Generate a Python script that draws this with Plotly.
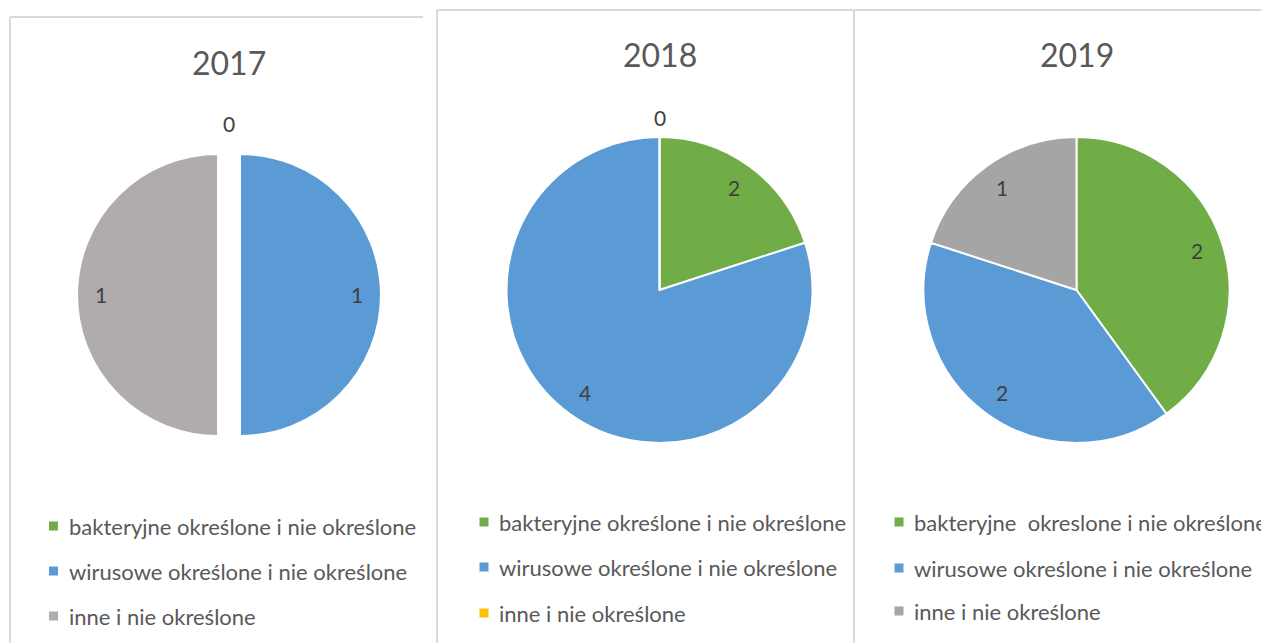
import math
import plotly.graph_objects as go

# page offset (browser body margin) compensation
OFF = 8
W, H = 1269 - OFF, 643 - OFF

# ---------------- data ----------------
titles = ["2017", "2018", "2019"]

categories_2017 = ["bakteryjne określone i nie określone",
                   "wirusowe określone i nie określone",
                   "inne i nie określone"]
categories_2018 = ["bakteryjne określone i nie określone",
                   "wirusowe określone i nie określone",
                   "inne i nie określone"]
categories_2019 = ["bakteryjne\u00a0 okreslone i nie określone",
                   "wirusowe określone i nie określone",
                   "inne i nie określone"]

values_2017 = [0, 1, 1]
values_2018 = [1, 4, 0]          # slice shares as drawn
values_2019 = [2, 2, 1]

data_labels_2017 = ["0", "1", "1"]
data_labels_2018 = ["2", "4", "0"]  # labels as printed on the chart
data_labels_2019 = ["2", "2", "1"]

colors_2017 = ["#70AD47", "#5B9BD5", "#AFACAB"]
colors_2018 = ["#70AD47", "#5B9BD5", "#FFC000"]
colors_2019 = ["#70AD47", "#5B9BD5", "#A5A5A5"]

# ---------------- layout params (pixels in the page) ----------------
FONT = "Lato"
panels = [
    dict(title=titles[0], cats=categories_2017, vals=values_2017, labs=data_labels_2017,
         cols=colors_2017, cx=229, cy=295, half=152, pull=0.078, title_y=62,
         leg_sq_x=53.5, leg_tx=67, leg_y=[526, 571, 616]),
    dict(title=titles[1], cats=categories_2018, vals=values_2018, labs=data_labels_2018,
         cols=colors_2018, cx=659.5, cy=290, half=153, pull=0.0, title_y=55,
         leg_sq_x=484, leg_tx=497, leg_y=[522, 567, 613]),
    dict(title=titles[2], cats=categories_2019, vals=values_2019, labs=data_labels_2019,
         cols=colors_2019, cx=1076.5, cy=290, half=153, pull=0.0, title_y=55,
         leg_sq_x=899, leg_tx=912, leg_y=[522, 568, 611]),
]


def px2x(px):
    return (px - OFF) / W


def px2y(py):
    return 1 - (py - OFF) / H


fig = go.Figure()
annotations = []
shapes = []

# panel borders
BORDER = "#D9D9D9"
for (x0, y0, x1, y1) in [
    (10, 17, 423, 17), (10, 17, 10, 643),
    (437, 10, 853, 10), (437, 10, 437, 643), (854, 10, 854, 643),
    (854, 10, 1269, 10),
]:
    shapes.append(dict(type="line", xref="paper", yref="paper",
                       x0=px2x(x0), y0=px2y(y0), x1=px2x(x1), y1=px2y(y1),
                       line=dict(color=BORDER, width=2), layer="below"))

for p in panels:
    cx, cy, half = p["cx"], p["cy"], p["half"]
    fig.add_trace(go.Pie(
        labels=p["cats"], values=p["vals"],
        marker=dict(colors=p["cols"], line=dict(color="white", width=2)),
        sort=False, direction="clockwise", rotation=0,
        textinfo="none", showlegend=False,
        pull=[p["pull"]] * len(p["vals"]),
        domain=dict(x=[px2x(cx - half), px2x(cx + half)],
                    y=[px2y(cy + half), px2y(cy - half)]),
    ))

    # data labels, placed along slice mid-angles
    r = half / (1 + p["pull"])
    pull_px = p["pull"] * r
    total = sum(p["vals"])
    cum = 0
    for v, t in zip(p["vals"], p["labs"]):
        a0 = cum / total * 2 * math.pi
        a1 = (cum + v) / total * 2 * math.pi
        cum += v
        mid = (a0 + a1) / 2
        d = 1.13 * half if v == 0 else 0.83 * r + pull_px
        lx = cx + d * math.sin(mid)
        ly = cy - d * math.cos(mid)
        annotations.append(dict(x=px2x(lx), y=px2y(ly), xref="paper", yref="paper",
                                text=t, showarrow=False, xanchor="center", yanchor="middle",
                                font=dict(family=FONT, size=21, color="#404040")))

    # title
    annotations.append(dict(x=px2x(cx), y=px2y(p["title_y"]), xref="paper", yref="paper",
                            text=p["title"], showarrow=False, xanchor="center", yanchor="middle",
                            font=dict(family=FONT, size=32, color="#595959")))

    # legend
    for cat, col, yy in zip(p["cats"], p["cols"], p["leg_y"]):
        shapes.append(dict(type="rect", xref="paper", yref="paper",
                           x0=px2x(p["leg_sq_x"] - 4.5), x1=px2x(p["leg_sq_x"] + 4.5),
                           y0=px2y(yy + 4.5), y1=px2y(yy - 4.5),
                           fillcolor=col, line=dict(width=0)))
        annotations.append(dict(x=px2x(p["leg_tx"]), y=px2y(yy), xref="paper", yref="paper",
                                text=cat, showarrow=False, xanchor="left", yanchor="middle",
                                font=dict(family=FONT, size=22, color="#595959")))

fig.update_layout(
    width=W, height=H, margin=dict(l=0, r=0, t=0, b=0),
    paper_bgcolor="white", plot_bgcolor="white",
    annotations=annotations, shapes=shapes,
)

fig.write_html("out.html")
